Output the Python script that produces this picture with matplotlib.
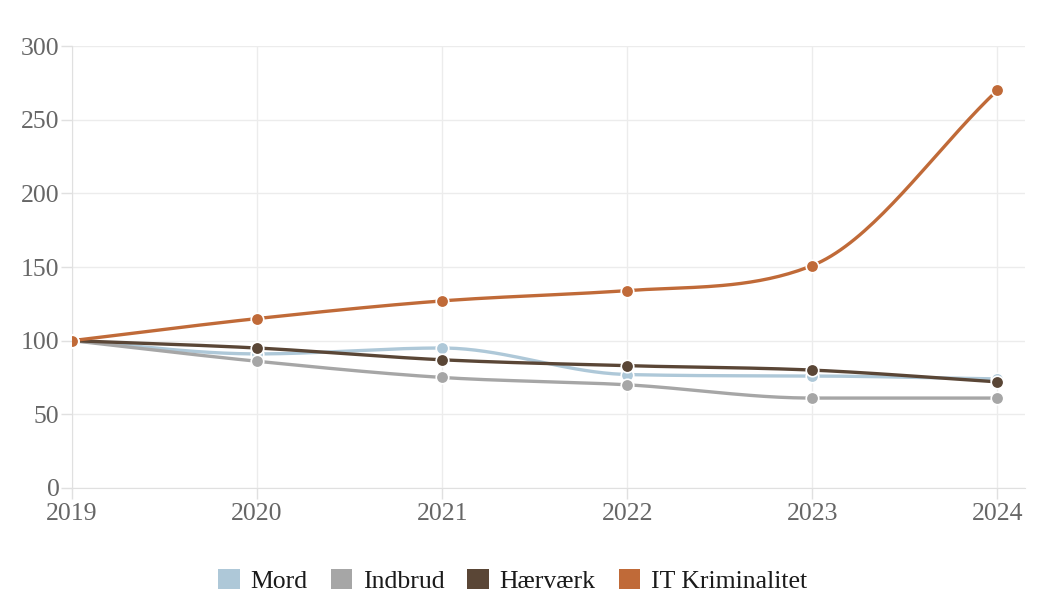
import numpy as np
import matplotlib.pyplot as plt
from matplotlib.patches import Patch

years = [2019, 2020, 2021, 2022, 2023, 2024]
mord = [100, 91, 95, 77, 76, 74]
indbrud = [100, 86, 75, 70, 61, 61]
haervaerk = [100, 95, 87, 83, 80, 72]
it_krim = [100, 115, 127, 134, 151, 270]

labels = ['Mord', 'Indbrud', 'Hærværk', 'IT Kriminalitet']
colors = ['#aec8d8', '#a6a6a6', '#5a4636', '#c06a38']


def monotone(x, y, n=40):
    # monotone cubic (Fritsch-Carlson) for drawing the smooth line
    x = np.asarray(x, float)
    y = np.asarray(y, float)
    d = np.diff(y) / np.diff(x)
    m = np.zeros_like(y)
    m[0], m[-1] = d[0], d[-1]
    for i in range(1, len(y) - 1):
        m[i] = 0 if d[i - 1] * d[i] <= 0 else (d[i - 1] + d[i]) / 2
    for i in range(len(d)):
        if d[i] == 0:
            m[i] = m[i + 1] = 0
            continue
        a, b = m[i] / d[i], m[i + 1] / d[i]
        s = a * a + b * b
        if s > 9:
            t = 3 / np.sqrt(s)
            m[i], m[i + 1] = t * a * d[i], t * b * d[i]
    xs, ys = [], []
    for i in range(len(d)):
        h = x[i + 1] - x[i]
        t = np.linspace(0, 1, n)
        h00 = 2 * t**3 - 3 * t**2 + 1
        h10 = t**3 - 2 * t**2 + t
        h01 = -2 * t**3 + 3 * t**2
        h11 = t**3 - t**2
        xs.append(x[i] + t * h)
        ys.append(h00 * y[i] + h10 * h * m[i] + h01 * y[i + 1] + h11 * h * m[i + 1])
    return np.concatenate(xs), np.concatenate(ys)


plt.rcParams['font.family'] = ['Liberation Serif', 'DejaVu Serif']

fig = plt.figure(figsize=(10.6, 6.16), dpi=100)
ax = fig.add_axes([0.068, 0.208, 0.899, 0.717])

for vals, c in zip([mord, indbrud, haervaerk, it_krim], colors):
    sx, sy = monotone(years, vals)
    ax.plot(sx, sy, color=c, lw=2.4, solid_capstyle='round', zorder=3)
    ax.plot(years, vals, 'o', ms=9, color=c, mec='white', mew=1.2, zorder=4)

ax.set_xlim(2019, 2024.15)
ax.set_ylim(0, 300)
ax.set_xticks(years)
ax.set_yticks(range(0, 301, 50))
ax.grid(True, color='#ececec', lw=1)
ax.set_axisbelow(True)
for s in ['top', 'right']:
    ax.spines[s].set_visible(False)
for s in ['left', 'bottom']:
    ax.spines[s].set_color('#e0e0e0')
ax.tick_params(colors='#e0e0e0', labelcolor='#666666', labelsize=18.5, length=8, width=1)
ax.tick_params(axis='y', pad=1)
ax.tick_params(axis='x', pad=3)

handles = [Patch(facecolor=c, edgecolor='none') for c in colors]
fig.legend(handles, labels, loc='center', bbox_to_anchor=(0.4835, 0.057), ncol=4,
           frameon=False, fontsize=18.5, handlelength=0.85, handleheight=0.85,
           handletextpad=0.4, columnspacing=0.9, labelcolor='#1a1a1a')

fig.savefig('out.png', dpi=100)
